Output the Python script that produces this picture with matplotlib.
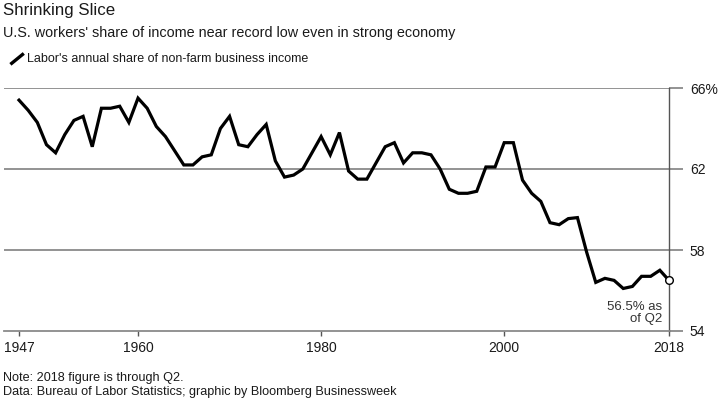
import matplotlib
matplotlib.use("Agg")
import matplotlib.pyplot as plt
from matplotlib.lines import Line2D

years = list(range(1947, 2019))
share = [65.4, 64.9, 64.3, 63.2, 62.8, 63.7, 64.4, 64.6, 63.1, 65.0,
         65.0, 65.1, 64.3, 65.5, 65.0, 64.1, 63.6, 62.9, 62.2, 62.2,
         62.6, 62.7, 64.0, 64.6, 63.2, 63.1, 63.7, 64.2, 62.4, 61.6,
         61.7, 62.0, 62.8, 63.6, 62.7, 63.8, 61.9, 61.5, 61.5, 62.3,
         63.1, 63.3, 62.3, 62.8, 62.8, 62.7, 62.0, 61.0, 60.8, 60.8,
         60.9, 62.1, 62.1, 63.3, 63.3, 61.45, 60.8, 60.4, 59.35, 59.25,
         59.55, 59.6, 57.9, 56.4, 56.6, 56.5, 56.1, 56.2, 56.7, 56.7,
         57.0, 56.5]
x_ticks = [1947, 1960, 1980, 2000, 2018]
y_ticks = [54, 58, 62, 66]
y_labels = ["54", "58", "62", "66%"]

plt.rcParams['font.family'] = ['Liberation Sans', 'DejaVu Sans']
W, H = 722, 398
fig = plt.figure(figsize=(W / 100, H / 100), dpi=100)

def fx(px):
    return px / W

def fy(py):
    return 1 - py / H

grid_c = "#8a8a8a"
text_c = "#1a1a1a"

ax = fig.add_axes([fx(4), fy(331), fx(669) - fx(4), fy(88) - fy(331)])
ax.set_xlim(1945.36, 2018)
ax.set_ylim(54, 66)

for v in [58, 62, 66]:
    ax.axhline(v, color=grid_c, lw=1.3, zorder=1)

ax.plot(years, share, color="black", lw=2.3, solid_joinstyle="miter", zorder=3)
ax.plot([years[-1]], [share[-1]], marker="o", ms=5.5, mfc="white", mec="black",
        mew=1.0, zorder=4, clip_on=False)

for s in ["top", "left"]:
    ax.spines[s].set_visible(False)
ax.spines["bottom"].set_color(grid_c)
ax.spines["bottom"].set_linewidth(1.3)
ax.spines["right"].set_color("#555555")
ax.spines["right"].set_linewidth(1.0)

ax.yaxis.tick_right()
ax.set_yticks(y_ticks)
ax.set_yticklabels(y_labels)
ax.tick_params(axis="y", direction="out", length=10, width=1.3, color=grid_c,
               pad=5, labelsize=10, labelcolor=text_c)
ax.set_xticks(x_ticks)
ax.set_xticklabels([str(t) for t in x_ticks])
ax.tick_params(axis="x", direction="out", length=3.5, width=1.0, color="#555555",
               pad=4, labelsize=10, labelcolor=text_c)

ax.text(2017.3, 54.9, "56.5% as\nof Q2", ha="right", va="center", fontsize=9.5,
        color="#333333", linespacing=1.0)

fig.text(fx(3), fy(11), "Shrinking Slice", fontsize=12.2, color=text_c, va="center")
fig.text(fx(3), fy(33), "U.S. workers' share of income near record low even in strong economy",
         fontsize=10.4, color=text_c, va="center")
fig.add_artist(Line2D([fx(11.7), fx(22.5)], [fy(63.3), fy(54.5)], color="black", lw=2.4,
                      transform=fig.transFigure))
fig.text(fx(27), fy(59), "Labor's annual share of non-farm business income",
         fontsize=9.0, color=text_c, va="center")
fig.text(fx(3), fy(378), "Note: 2018 figure is through Q2.", fontsize=9.1, color=text_c, va="center")
fig.text(fx(3), fy(392), "Data: Bureau of Labor Statistics; graphic by Bloomberg Businessweek",
         fontsize=9.1, color=text_c, va="center")

fig.savefig("out.png", dpi=100)
